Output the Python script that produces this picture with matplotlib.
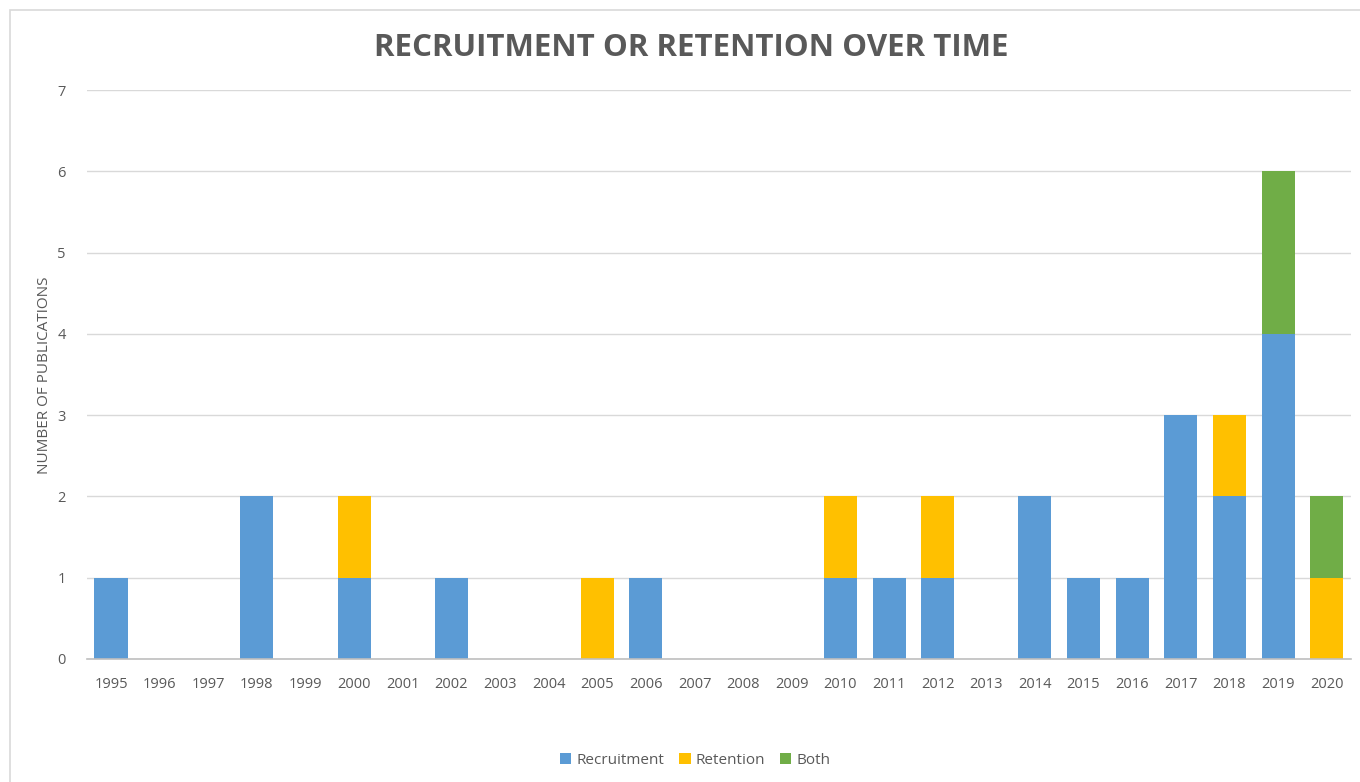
import matplotlib
matplotlib.use("Agg")
import matplotlib.pyplot as plt
from matplotlib.patches import Rectangle
import numpy as np

years = [str(y) for y in range(1995, 2021)]
recruitment = [1, 0, 0, 2, 0, 1, 0, 1, 0, 0, 0, 1, 0, 0, 0, 1, 1, 1, 0, 2, 1, 1, 3, 2, 4, 0]
retention   = [0, 0, 0, 0, 0, 1, 0, 0, 0, 0, 1, 0, 0, 0, 0, 1, 0, 1, 0, 0, 0, 0, 0, 1, 0, 1]
both        = [0, 0, 0, 0, 0, 0, 0, 0, 0, 0, 0, 0, 0, 0, 0, 0, 0, 0, 0, 0, 0, 0, 0, 0, 2, 1]

series_names = ["Recruitment", "Retention", "Both"]
colors = ["#5B9BD5", "#FFC000", "#70AD47"]
title = "RECRUITMENT OR RETENTION OVER TIME"
ylabel = "NUMBER OF PUBLICATIONS"

plt.rcParams['font.family'] = ['Open Sans', 'DejaVu Sans']
text_color = "#595959"

fig = plt.figure(figsize=(13.6, 7.82), dpi=100)
W, H = 1360, 782

# chart border (light gray), extends beyond right/bottom like the reference
fig.patches.append(Rectangle((10 / W, -0.05), 1.2, 1 - 10 / H + 0.05, transform=fig.transFigure,
                             fill=False, edgecolor="#d9d9d9", linewidth=1.2))

ax = fig.add_axes([86.7 / W, 1 - 659 / H, (1351 - 86.7) / W, (659 - 90) / H])
x = np.arange(len(years))
rec = np.array(recruitment)
ret = np.array(retention)
bo = np.array(both)
bw = 0.68
ax.bar(x, rec, bw, color=colors[0], label=series_names[0], zorder=3)
ax.bar(x, ret, bw, bottom=rec, color=colors[1], label=series_names[1], zorder=3)
ax.bar(x, bo, bw, bottom=rec + ret, color=colors[2], label=series_names[2], zorder=3)

ax.set_xlim(-0.5, len(years) - 0.5)
ax.set_ylim(0, 7)
ax.set_yticks(range(0, 8))
ax.set_xticks(x)
ax.set_xticklabels(years)
ax.yaxis.grid(True, color="#d9d9d9", linewidth=1, zorder=0)
for s in ["top", "right", "left"]:
    ax.spines[s].set_visible(False)
ax.spines["bottom"].set_color("#bfbfbf")
ax.spines["bottom"].set_linewidth(1.2)
ax.spines["bottom"].set_zorder(4)
ax.tick_params(axis="both", length=0, labelsize=10.5, colors=text_color)
ax.tick_params(axis="x", pad=13)
ax.tick_params(axis="y", pad=15)

fig.text(45 / W, 1 - 375 / H, ylabel, rotation=90, ha="center", va="center",
         fontsize=11, color=text_color)
fig.text(691 / W, 1 - 48 / H, title, ha="center", va="center",
         fontsize=22.5, fontweight="bold", color=text_color)

leg = fig.legend(loc="center", bbox_to_anchor=(695 / W, 1 - 760 / H), ncol=3, frameon=False,
                 fontsize=11, handlelength=0.75, handleheight=0.75, handletextpad=0.3,
                 columnspacing=1.0, labelcolor=text_color)

fig.savefig("out.png", dpi=100, facecolor="white")
